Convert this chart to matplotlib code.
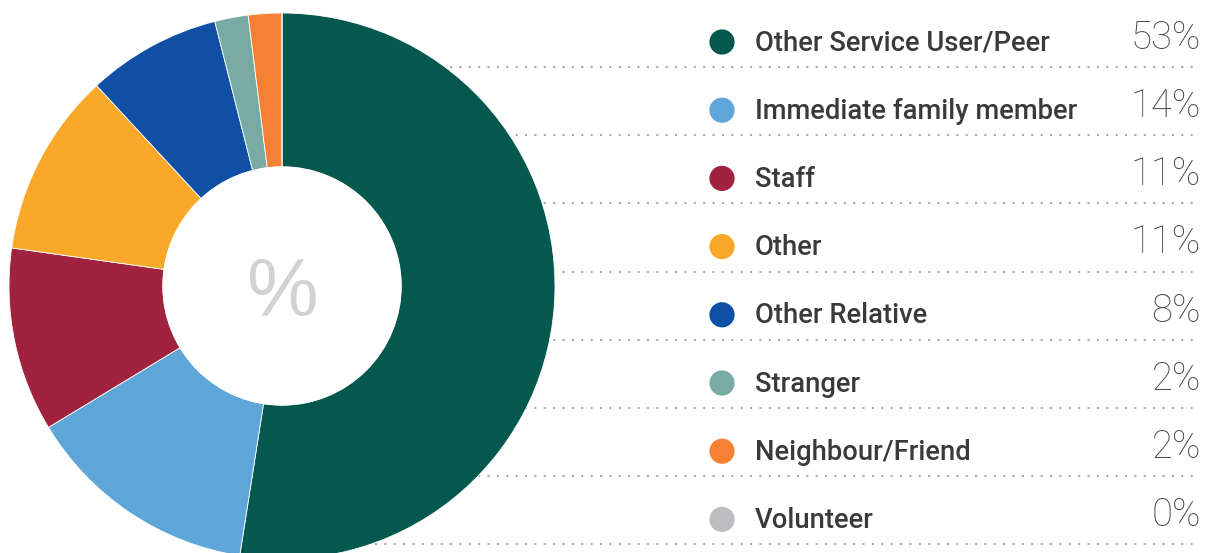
import matplotlib.pyplot as plt
from matplotlib.patches import Circle

# Relationship breakdown (percent)
labels = ['Other Service User/Peer', 'Immediate family member', 'Staff', 'Other',
          'Other Relative', 'Stranger', 'Neighbour/Friend', 'Volunteer']
values = [53, 14, 11, 11, 8, 2, 2, 0]
colors = ['#05584E', '#5EA6D8', '#A0223F', '#F9A82A',
          '#0F50A5', '#78ABA5', '#F58234', '#BCBDC0']

W, H = 1209, 553
fig = plt.figure(figsize=(W / 100, H / 100), dpi=100)
ax = fig.add_axes([0, 0, 1, 1])

# guide lines under each legend row, drawn first so the donut sits on top
row_y = [H - (42 + 68.2 * i) for i in range(len(labels))]
for y in row_y:
    ax.plot([300, 1200], [y - 25, y - 25], color='#A7A9AC', lw=1.5,
            linestyle=(0, (1, 3.5)), zorder=1)

# donut
cx, cy = 282, H - 286
ax.pie(values, colors=colors, startangle=90, counterclock=False,
       radius=273, center=(cx, cy),
       wedgeprops=dict(width=154, edgecolor='white', linewidth=0.6, zorder=2))
ax.add_patch(Circle((cx, cy), 119, color='white', zorder=2.5))
ax.text(cx, cy - 9, '%', ha='center', va='center', fontsize=58,
        color='#D1D2D4', family='Liberation Sans', zorder=3)

# legend rows
for lab, val, col, y in zip(labels, values, colors, row_y):
    ax.scatter(722, y, s=330, color=col, edgecolors='none', zorder=3)
    ax.text(755, y - 1, lab, ha='left', va='center', fontsize=19.7,
            color='#3A3A3A', family='Roboto', fontweight='medium')
    ax.text(1201, y + 4, f'{val}%', ha='right', va='center', fontsize=27.5,
            color='#4A4A4A', family='Roboto', fontweight='light')

ax.set_xlim(0, W)
ax.set_ylim(0, H)
ax.set_aspect('equal')
ax.axis('off')

fig.savefig('out.png', dpi=100, facecolor='white')
